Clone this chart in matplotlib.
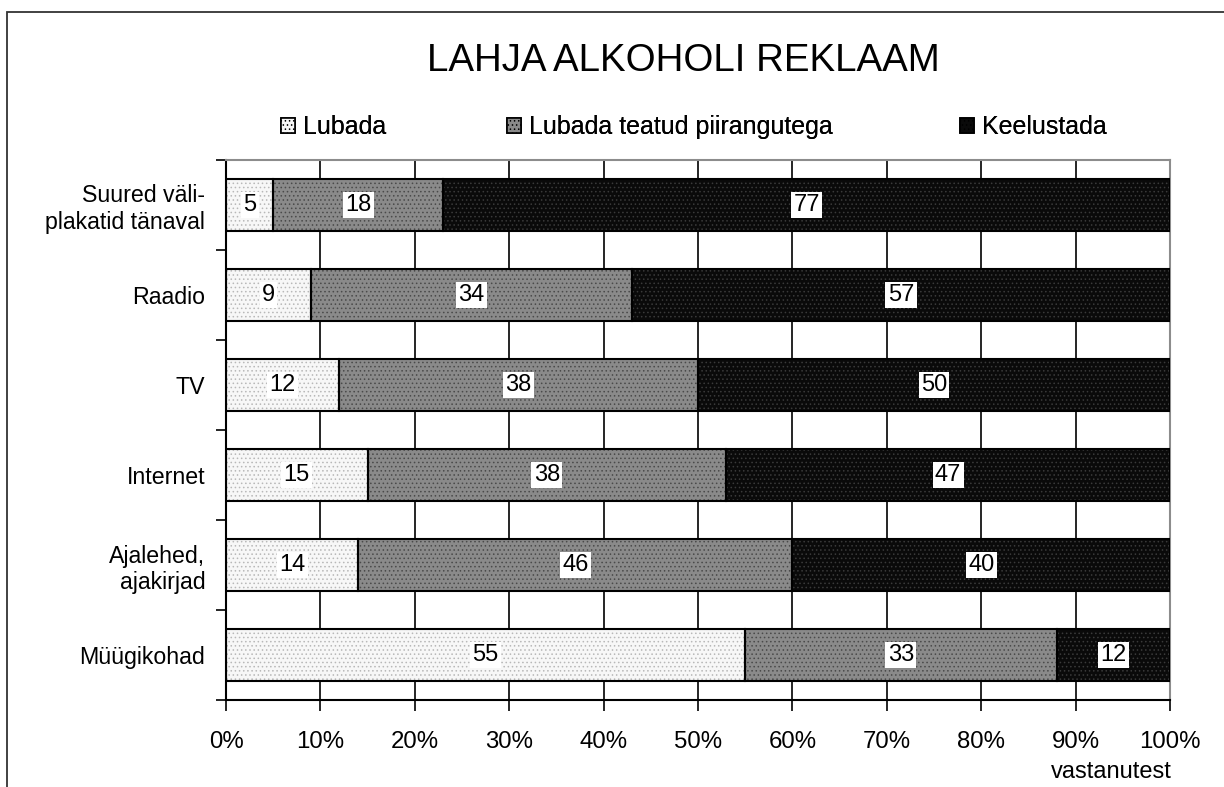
import matplotlib
matplotlib.use("Agg")
import matplotlib.pyplot as plt
from matplotlib.patches import Rectangle, Patch
import numpy as np

plt.rcParams['font.family'] = ['Liberation Sans', 'DejaVu Sans']

title = "LAHJA ALKOHOLI REKLAAM"
categories = ["Suured väli-\nplakatid tänaval", "Raadio", "TV", "Internet",
              "Ajalehed,\najakirjad", "Müügikohad"]
series_names = ["Lubada", "Lubada teatud piirangutega", "Keelustada"]
lubada = [5, 9, 12, 15, 14, 55]
piirangutega = [18, 34, 38, 38, 46, 33]
keelustada = [77, 57, 50, 47, 40, 12]
xtick_values = [0, 10, 20, 30, 40, 50, 60, 70, 80, 90, 100]
xtick_labels = [f"{v}%" for v in xtick_values]
xlabel = "vastanutest"

faces = ["#f7f7f7", "#8a8a8a", "#0a0a0a"]
hatch_cols = ["#b8b8b8", "#4a4a4a", "#3a3a3a"]

W, H = 1224, 787
fig = plt.figure(figsize=(W / 100, H / 100), dpi=100)
plt.rcParams['hatch.linewidth'] = 0.6

# outer frame (extends beyond right/bottom edges)
fig.patches.append(Rectangle((7 / W, -0.1), 1.2, 1 - 12 / H + 0.1,
                             transform=fig.transFigure, fill=False,
                             edgecolor="#333333", linewidth=1.3, zorder=0))

ax = fig.add_axes([226 / W, 1 - 700 / H, (1170 - 226) / W, (700 - 160) / H])

y = np.arange(len(categories))
data = [lubada, piirangutega, keelustada]
left = np.zeros(len(categories))
bar_h = 0.58
for vals, fc, hc in zip(data, faces, hatch_cols):
    vals = np.array(vals, dtype=float)
    ax.barh(y, vals, left=left, height=bar_h, color=fc, edgecolor=hc,
            hatch="....", linewidth=0, zorder=2)
    ax.barh(y, vals, left=left, height=bar_h, fill=False,
            edgecolor="black", linewidth=1.5, zorder=3)
    for yi, (l, v) in enumerate(zip(left, vals)):
        ax.text(l + v / 2, yi, f"{int(v)}", ha="center", va="center",
                fontsize=17, color="black", zorder=5,
                bbox=dict(boxstyle="square,pad=0.1", facecolor="white",
                          edgecolor="none"))
    left += vals

ax.set_xlim(0, 100)
ax.set_ylim(len(categories) - 0.5, -0.5)

ax.set_xticks(xtick_values)
ax.set_xticklabels(xtick_labels, fontsize=17.3)
ax.tick_params(axis="x", direction="out", length=8, width=1.2, pad=14, colors="black")
ax.xaxis.grid(True, color="black", linewidth=1.2, zorder=1)
ax.set_axisbelow(True)

ax.set_yticks(np.arange(len(categories) + 1) - 0.5)
ax.set_yticklabels([])
ax.set_yticks(y, minor=True)
ax.set_yticklabels(categories, minor=True, fontsize=16.7)
ax.tick_params(axis="y", which="major", direction="out", length=7, width=1.2)
ax.tick_params(axis="y", which="minor", length=0, pad=15)

for s in ["left", "bottom"]:
    ax.spines[s].set_color("black")
    ax.spines[s].set_linewidth(1.5)
for s in ["top", "right"]:
    ax.spines[s].set_color("#8c8c8c")
    ax.spines[s].set_linewidth(1.5)

fig.text(683 / W, 1 - 61 / H, title, ha="center", va="center", fontsize=27.7)
fig.text(1111 / W, 1 - 772 / H, xlabel, ha="center", va="center", fontsize=17)

# legend: one entry per legend, spread like the original
legend_x = [281 / W, 507 / W, 960 / W]
for name, fc, hc, lx in zip(series_names, faces, hatch_cols, legend_x):
    h = Patch(facecolor=fc, edgecolor="black", linewidth=1.2, hatch="....")
    lg = fig.legend([h], [name], loc="center left",
                    bbox_to_anchor=(lx, 1 - 127 / H), frameon=False,
                    fontsize=18, handlelength=0.55, handleheight=0.55,
                    handletextpad=0.32, borderpad=0, borderaxespad=0)
    fig.add_artist(lg)

fig.savefig("out.png", dpi=100)
